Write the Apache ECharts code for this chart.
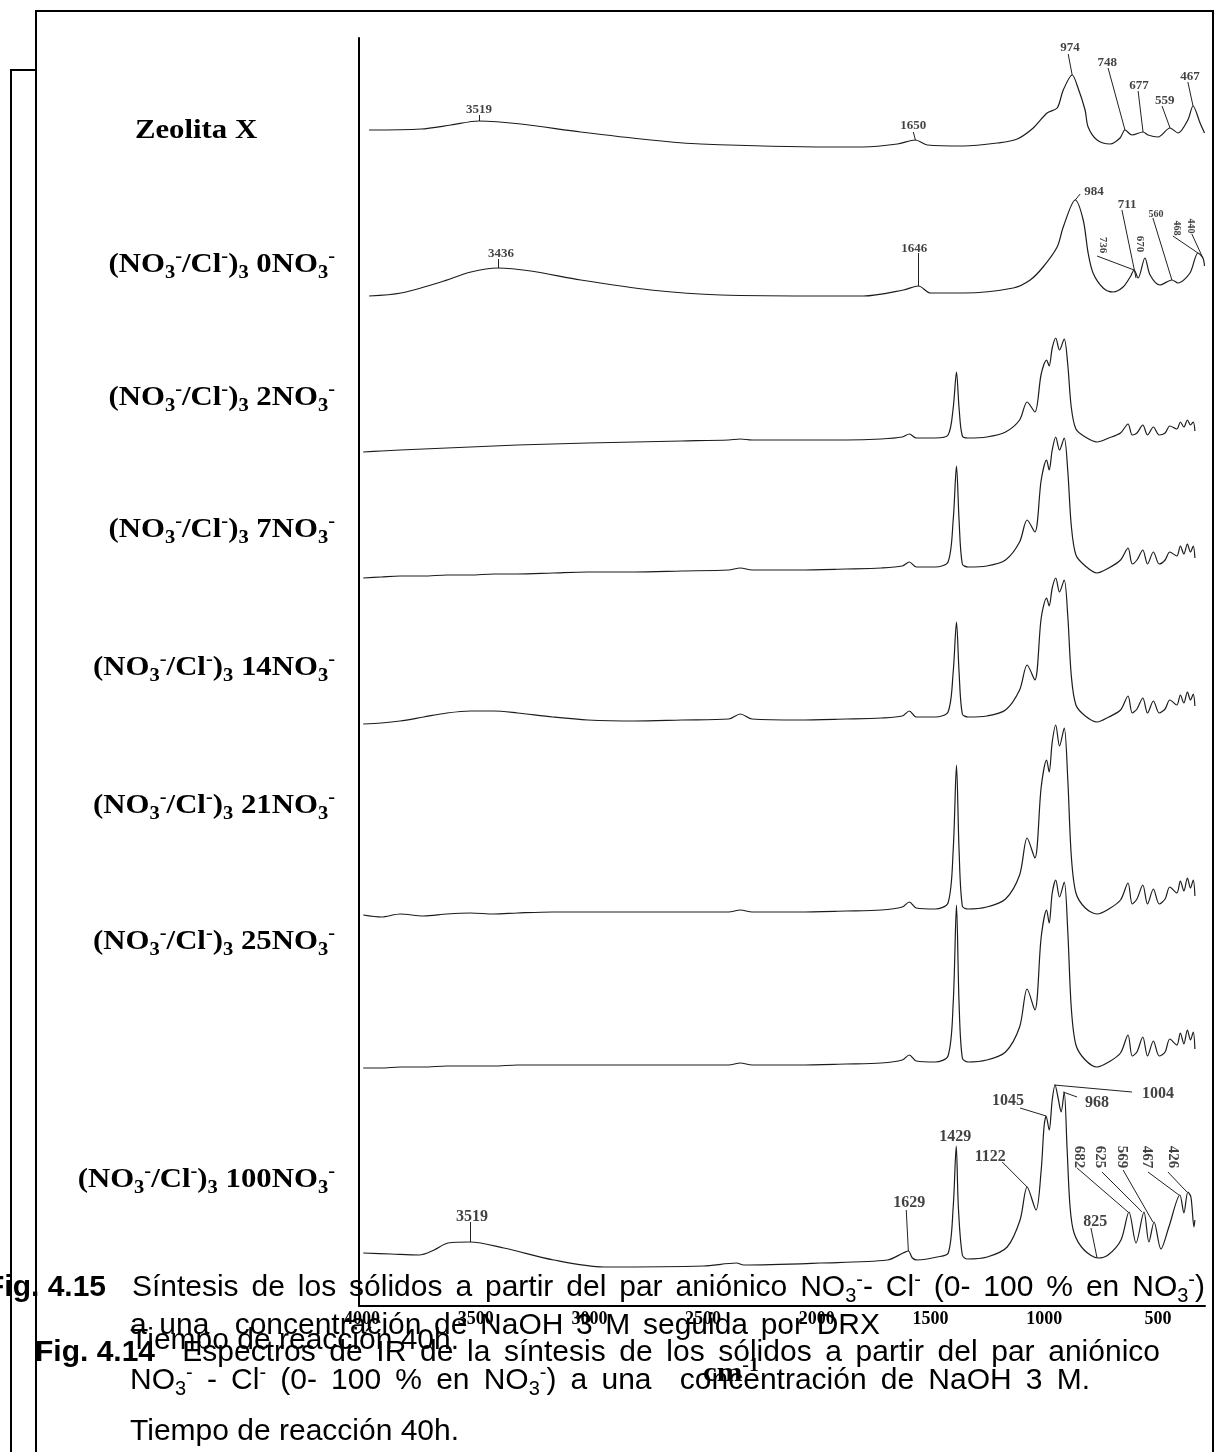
<!DOCTYPE html>
<html>
<head>
<meta charset="utf-8">
<title>Espectros IR</title>
<script src="https://cdn.jsdelivr.net/npm/echarts@6.0.0/dist/echarts.min.js"></script>
<style>
  html, body { margin: 0; padding: 0; background: #fff; }
  #main { width: 1215px; height: 1452px; }
</style>
</head>
<body>
<div id="main"></div>
<script>
// tick labels of the wavenumber axis (cm-1)
var tickValues = [4000, 3500, 3000, 2500, 2000, 1500, 1000, 500];

var seriesNames = ['Zeolita X', '0NO3', '2NO3', '7NO3', '14NO3', '21NO3', '25NO3', '100NO3'];

// vertical offset of every trace (same units as the traces)
var offsets = [1161, 1010, 866, 736, 586, 394, 241, 41];

// [cm-1, intensity]
var zeolitaX = [[3932,15],[3711,16],[3583,20],[3464,24],[3285,21],[3030,13],[2732,5],[2519,1],[1966,-2],[1826,-2],
  [1681,1],[1604,5],[1553,0],[1400,-1],[1255,2],[1170,6],[1102,17],[1043,32],[1000,37],[974,55],[936,70],[911,57],
  [881,35],[868,18],[830,5],[774,1],[732,7],[711,15],[681,10],[634,13],[613,10],[570,8],[519,17],[485,12],[443,25],
  [421,39],[391,22],[372,12]];

var nitrate0 = [[3932,0],[3796,3],[3626,14],[3498,24],[3383,28],[3243,25],[3030,16],[2732,6],[2434,1],[1966,0],
  [1826,0],[1655,6],[1591,10],[1540,3],[1400,3],[1187,8],[1115,16],[1060,29],[1000,49],[974,69],[923,96],[889,76],
  [868,43],[847,23],[804,8],[762,4],[719,9],[689,19],[672,26],[655,18],[626,38],[604,21],[562,11],[511,16],[485,13],
  [434,23],[400,43],[379,38],[372,30]];

var nitrate100 = [[3957,12],[3838,11],[3719,10],[3655,15],[3596,22],[3502,23],[3358,17],[3145,5],[2932,-2],[2507,-1],
  [2366,2],[2336,0],[2009,2],[1724,5],[1656,12],[1634,14],[1617,7],[1596,5],[1511,8],[1464,12],[1443,58],[1430,119],
  [1421,58],[1404,10],[1383,6],[1298,8],[1213,18],[1158,45],[1128,78],[1090,55],[1068,95],[1056,138],[1047,149],
  [1034,135],[1021,165],[1009,180],[996,167],[983,153],[970,173],[958,118],[945,58],[928,32],[885,15],[826,7],
  [783,10],[728,25],[694,53],[664,22],[630,53],[609,23],[587,43],[558,16],[524,38],[477,70],[460,52],[443,73],
  [430,68],[417,38],[413,45]];

// the intermediate samples share one wavenumber grid
var wnNitrate = [3957,3880,3800,3700,3600,3500,3400,3300,3150,3000,2800,2600,2400,2350,2300,2100,1900,1750,1660,1630,
  1600,1520,1465,1443,1429,1418,1404,1380,1300,1220,1160,1128,1095,1068,1045,1034,1021,1006,990,970,
  955,940,920,880,830,780,730,698,680,660,635,615,590,565,540,520,490,475,460,445,432,420,413];

var nitrate2 = [-12,-11,-10,-9,-8,-7,-6,-5,-4,-3,-2,-1,0,1,0,0,0,1,3,6,
  2,2,5,32,68,32,4,2,3,8,20,38,28,66,80,74,92,102,90,101,
  76,33,11,3,-2,2,7,16,5,7,15,5,13,5,7,14,11,18,13,20,15,18,9];
var nitrate7 = [-8,-7,-6,-6,-5,-5,-4,-4,-3,-2,-2,-1,0,2,0,0,1,2,4,8,
  3,3,8,50,104,50,6,3,4,10,28,50,38,90,110,100,120,133,120,132,
  100,45,15,4,-3,2,10,22,6,10,20,6,18,6,10,18,14,24,16,26,18,24,12];
var nitrate14 = [-4,-3,-1,3,7,9,9,7,3,0,-1,0,1,6,1,0,1,2,4,9,
  3,3,8,48,98,48,6,3,4,10,30,55,40,102,122,114,132,142,128,140,
  105,45,15,4,-2,3,10,24,7,11,22,7,19,7,11,20,15,25,17,28,20,26,14];
var nitrate21 = [-3,-5,-2,-4,-2,-1,-2,-1,0,0,0,0,0,2,0,0,1,2,5,10,
  4,3,9,62,147,62,6,3,5,13,37,74,54,125,152,140,170,187,166,184,
  134,57,19,4,-2,3,12,29,8,13,27,8,23,8,13,25,19,31,21,34,24,32,16];
var nitrate25 = [-3,-3,-2,-2,-1,-1,-1,0,0,0,0,0,0,2,0,0,1,2,5,10,
  4,3,9,62,160,62,7,3,5,13,38,76,55,128,155,142,172,185,168,183,
  135,58,20,5,-2,3,12,30,9,13,28,9,24,9,13,26,20,32,21,35,25,33,16];

// peak notes: [text, cm-1, y, leader from cm-1, y, leader to cm-1, y, rotate, size]
var peakNotes = [
  ['3519', 3464,1196, 3464,1191, 3464,1185, 0, 13],
  ['1650', 1613,1180, 1613,1174, 1604,1166, 0, 13],
  ['974', 945,1258, 953,1252, 936,1231, 0, 13],
  ['748', 787,1243, 783,1238, 711,1176, 0, 13],
  ['677', 651,1220, 655,1215, 634,1174, 0, 13],
  ['559', 541,1205, 553,1200, 519,1178, 0, 13],
  ['467', 434,1229, 443,1224, 421,1200, 0, 13],
  ['3436', 3370,1052, 3383,1047, 3383,1038, 0, 13],
  ['1646', 1609,1057, 1591,1053, 1591,1020, 0, 13],
  ['984', 843,1114, 902,1112, 923,1106, 0, 13],
  ['711', 702,1101, 724,1096, 664,1028, 0, 13],
  ['560', 579,1092, 592,1088, 511,1026, 0, 10],
  ['736', 804,1061, 830,1050, 672,1036, -90, 11],
  ['670', 647,1062, null,null, null,null, -90, 11],
  ['468', 490,1078, 507,1070, 400,1053, -90, 10],
  ['440', 430,1080, 426,1072, 379,1048, -90, 10],
  ['3519', 3494,89, 3502,84, 3502,64, 0, 16],
  ['1629', 1630,103, 1643,96, 1634,55, 0, 16],
  ['1429', 1434,169, null,null, null,null, 0, 16],
  ['1122', 1285,149, 1234,144, 1128,119, 0, 16],
  ['1045', 1209,205, 1158,198, 1047,190, 0, 16],
  ['968', 830,203, 915,209, 975,214, 0, 16],
  ['1004', 570,212, 681,214, 1013,221, 0, 16],
  ['825', 838,84, 856,78, 830,48, 0, 16],
  ['682', 906,149, 915,138, 698,94, -90, 15],
  ['625', 817,149, 809,134, 638,94, -90, 15],
  ['569', 723,149, 719,136, 592,84, -90, 15],
  ['467', 617,149, 613,134, 481,111, -90, 15],
  ['426', 507,149, 528,134, 447,114, -90, 15]
];

function lift(pts, off) {
  return pts.map(function (p) { return [p[0], p[1] + off]; });
}
function liftGrid(wn, hs, off) {
  return wn.map(function (w, i) { return [w, hs[i] + off]; });
}

var traces = [
  lift(zeolitaX, offsets[0]),
  lift(nitrate0, offsets[1]),
  liftGrid(wnNitrate, nitrate2, offsets[2]),
  liftGrid(wnNitrate, nitrate7, offsets[3]),
  liftGrid(wnNitrate, nitrate14, offsets[4]),
  liftGrid(wnNitrate, nitrate21, offsets[5]),
  liftGrid(wnNitrate, nitrate25, offsets[6]),
  lift(nitrate100, offsets[7])
];

var series = [];
traces.forEach(function (d, i) {
  series.push({
    name: seriesNames[i], type: 'line', data: d, xAxisIndex: 0, yAxisIndex: 0,
    symbol: 'none', smooth: 0.3, silent: true,
    lineStyle: { color: '#1c1c1c', width: 1.2 }
  });
});

series.push({
  type: 'lines', coordinateSystem: 'cartesian2d', xAxisIndex: 0, yAxisIndex: 0, silent: true,
  lineStyle: { color: '#222', width: 1, opacity: 1 },
  data: peakNotes.filter(function (a) { return a[3] != null; }).map(function (a) {
    return { coords: [[a[3], a[4]], [a[5], a[6]]] };
  })
});

series.push({
  type: 'scatter', symbolSize: 0, xAxisIndex: 0, yAxisIndex: 0, silent: true,
  label: { show: true, position: 'inside', color: '#111', fontFamily: 'Liberation Serif', fontWeight: 'bold' },
  data: peakNotes.map(function (a) {
    return { value: [a[1], a[2]], label: { formatter: a[0], rotate: a[7], fontSize: a[8] } };
  })
});

// rich text styles
var serifRich = {
  m: { fontFamily: 'Liberation Serif', fontWeight: 'bold', fontSize: 27, lineHeight: 34, fill: '#000' },
  sub: { fontFamily: 'Liberation Serif', fontWeight: 'bold', fontSize: 18, lineHeight: 18, verticalAlign: 'bottom', fill: '#000' },
  sup: { fontFamily: 'Liberation Serif', fontWeight: 'bold', fontSize: 18, lineHeight: 18, verticalAlign: 'top', fill: '#000' }
};
var sansRich = {
  r: { fontFamily: 'Liberation Sans', fontSize: 30, lineHeight: 36, fill: '#000' },
  b: { fontFamily: 'Liberation Sans', fontWeight: 'bold', fontSize: 30, lineHeight: 36, fill: '#000' },
  sub: { fontFamily: 'Liberation Sans', fontSize: 20, lineHeight: 20, verticalAlign: 'bottom', fill: '#000' },
  sup: { fontFamily: 'Liberation Sans', fontSize: 20, lineHeight: 20, verticalAlign: 'top', fill: '#000' }
};

function sampleLabel(n) {
  return '{m|(NO}{sub|3}{sup|-}{m|/Cl}{sup|-}{m|)}{sub|3}{m| ' + n + 'NO}{sub|3}{sup|-}';
}

function textEl(x, y, text, rich, align, sx) {
  return {
    type: 'text', x: x, y: y, scaleX: sx || 1, silent: true, z: 10,
    style: { text: text, rich: rich, align: align, verticalAlign: 'middle',
             textAlign: align, textVerticalAlign: 'middle' }
  };
}

// caption lines are justified in the source document: word gaps stretch to fill the line
var measureCtx = document.createElement('canvas').getContext('2d');
function textWidth(s, st) {
  measureCtx.font = (st.fontWeight || 'normal') + ' ' + st.fontSize + 'px "' + st.fontFamily + '"';
  return measureCtx.measureText(s).width;
}
function captionLine(tokens, x, y, right, sx) {
  var fixed = 0, gaps = 0, parts = [];
  tokens.forEach(function (t) {
    var st = sansRich[t[0]];
    if (t[0] !== 'r') {
      fixed += textWidth(t[1], st);
      parts.push('{' + t[0] + '|' + t[1] + '}');
      return;
    }
    t[1].split(' ').forEach(function (w, i) {
      if (i > 0) { gaps++; parts.push('{gap| }'); }
      if (w.length) { fixed += textWidth(w, st); parts.push('{r|' + w + '}'); }
    });
  });
  var space = textWidth(' ', sansRich.r);
  var gap = space;
  if (right != null && gaps) gap = Math.max(space, ((right - x) / sx - fixed) / gaps);
  var rich = {};
  for (var k in sansRich) rich[k] = sansRich[k];
  rich.gap = { fontFamily: 'Liberation Sans', fontSize: 30, lineHeight: 36, width: gap, fill: '#000' };
  return textEl(x, y, parts.join(''), rich, 'left', sx);
}

var labelY = [131, 265, 398, 530, 668, 806, 942, 1180];
var sampleNums = ['0', '2', '7', '14', '21', '25', '100'];

var graphics = [
  { type: 'polyline', silent: true, shape: { points: [[36, 1452], [36, 11], [1213, 11], [1213, 1452]] },
    style: { stroke: '#000', lineWidth: 2, fill: null } },
  { type: 'polyline', silent: true, shape: { points: [[36, 70], [11, 70], [11, 1452]] },
    style: { stroke: '#000', lineWidth: 2, fill: null } },
  textEl(196, labelY[0], '{m|Zeolita X}', serifRich, 'center', 1.14)
];
sampleNums.forEach(function (n, i) {
  graphics.push(textEl(335, labelY[i + 1], sampleLabel(n), serifRich, 'right', 1.14));
});

var capScale = 1;
graphics.push(captionLine([['b', 'Fig. 4.15'], ['r', '  Síntesis de los sólidos a partir del par aniónico NO'],
  ['sub', '3'], ['sup', '-'], ['r', '- Cl'], ['sup', '-'], ['r', ' (0- 100 % en NO'], ['sub', '3'], ['sup', '-'], ['r', ')']],
  -14, 1288, 1205, capScale));
graphics.push(captionLine([['r', 'a una  concentración de NaOH 3 M seguida por DRX']], 130, 1326, 880, capScale));
graphics.push(captionLine([['b', 'Fig. 4.14'], ['r', '  Espectros de IR de la síntesis de los sólidos a partir del par aniónico']],
  35, 1353, 1160, capScale));
graphics.push(captionLine([['r', 'Tiempo de reacción 40h.']], 130, 1341, null, capScale));
graphics.push(captionLine([['r', 'NO'], ['sub', '3'], ['sup', '-'], ['r', ' - Cl'], ['sup', '-'], ['r', ' (0- 100 % en NO'],
  ['sub', '3'], ['sup', '-'], ['r', ') a una  concentración de NaOH 3 M.']], 130, 1381, 1090, capScale));
graphics.push(captionLine([['r', 'Tiempo de reacción 40h.']], 130, 1432, null, capScale));
graphics.push(textEl(703, 1374, '{m|cm}{sup|-1}', {
  m: { fontFamily: 'Liberation Serif', fontWeight: 'bold', fontSize: 28, lineHeight: 34, fill: '#000' },
  sup: { fontFamily: 'Liberation Serif', fontWeight: 'bold', fontSize: 18, lineHeight: 18, verticalAlign: 'top', fill: '#000' }
}, 'left', 1.1));

var chart = echarts.init(document.getElementById('main'));
chart.setOption({
  backgroundColor: '#fff',
  animation: false,
  grid: { left: 359, top: 38, width: 846, height: 1268 },
  xAxis: [
    { type: 'value', inverse: true, min: 370, max: 3975, show: false },
    { type: 'value', inverse: true, min: 293, max: 4013, position: 'bottom',
      axisLine: { show: true, onZero: false, lineStyle: { color: '#000', width: 2 } },
      axisTick: { show: false },
      splitLine: { show: false },
      axisLabel: { customValues: tickValues, margin: 4, color: '#000', hideOverlap: false,
                   showMinLabel: true, showMaxLabel: true,
                   fontFamily: 'Liberation Serif', fontWeight: 'bold', fontSize: 18,
                   formatter: function (v) { return String(v); } } }
  ],
  yAxis: {
    type: 'value', min: 0, max: 1268,
    axisLine: { show: true, onZero: false, lineStyle: { color: '#000', width: 2 } },
    axisTick: { show: false }, axisLabel: { show: false }, splitLine: { show: false }
  },
  series: series,
  graphic: graphics
});
</script>
</body>
</html>
